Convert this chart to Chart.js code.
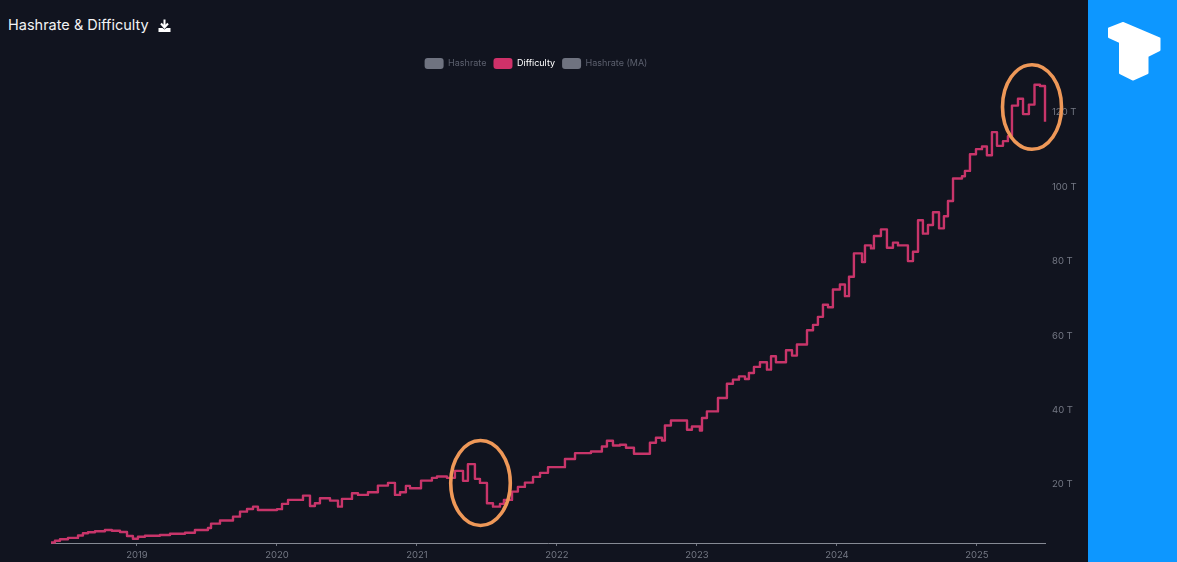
<!DOCTYPE html>
<html>
<head>
<meta charset="utf-8">
<style>
html,body{margin:0;padding:0;width:1177px;height:562px;overflow:hidden;background:#11141f;}
#title{position:absolute;left:8px;top:15px;font:14.5px/20px Inter,"Liberation Sans",sans-serif;color:#f2f3f5;white-space:nowrap;}
#chart{position:absolute;left:-8px;top:51px;}
#panel{position:absolute;left:1088px;top:0;width:89px;height:562px;background:#0d97ff;}
svg{position:absolute;left:0;top:0;pointer-events:none;}
</style>
<script src="https://cdn.jsdelivr.net/npm/chart.js@4/dist/chart.umd.min.js"></script>
</head>
<body>
<div id="panel"></div>
<div id="title">Hashrate &amp; Difficulty</div>
<canvas id="chart" width="1088" height="511"></canvas>
<svg width="1177" height="562" viewBox="0 0 1177 562">
  <path d="M164.500 19.500v7M161 23.500l3.500 4 3.500-4" fill="none" stroke="#fff" stroke-width="2"/>
  <path d="M158.500 28h4l2 1.500 2-1.500h4v4h-12z" fill="#fff"/>
  <ellipse cx="480.500" cy="483" rx="29.800" ry="42.500" fill="none" stroke="#ee9858" stroke-width="3.600"/>
  <ellipse cx="1032" cy="107" rx="29.500" ry="42.300" fill="none" stroke="#ee9858" stroke-width="3.600"/>
  <path d="M1109 28.500L1123 23L1159.500 38.500V50L1147.500 56V73L1133 79.500L1120 73V42L1109 37Z" fill="#fff" stroke="#fff" stroke-width="2" stroke-linejoin="round"/>
</svg>
<script>
const seriesNames = ["Hashrate", "Difficulty", "Hashrate (MA)"];
const yearTicks = [2019, 2020, 2021, 2022, 2023, 2024, 2025];
const adjustYear = [
2018.386,2018.414,2018.45,2018.507,2018.579,2018.614,2018.65,2018.7,2018.771,2018.821,2018.879,2018.929,2018.971,
2019.007,2019.057,2019.164,2019.236,2019.343,2019.414,2019.507,2019.529,2019.593,2019.686,2019.736,2019.786,2019.829,2019.864,
2020.0,2020.036,2020.079,2020.186,2020.236,2020.271,2020.307,2020.379,2020.436,2020.464,2020.536,2020.579,2020.65,2020.721,2020.793,2020.843,2020.879,2020.921,2020.95,
2021.029,2021.107,2021.143,2021.214,2021.271,2021.329,2021.364,2021.414,2021.45,2021.5,2021.543,2021.593,2021.621,2021.679,2021.721,2021.771,2021.829,2021.879,2021.936,
2022.057,2022.129,2022.243,2022.321,2022.357,2022.4,2022.45,2022.493,2022.55,2022.664,2022.707,2022.75,2022.771,2022.814,2022.929,2022.964,
2023.021,2023.036,2023.071,2023.15,2023.214,2023.257,2023.3,2023.343,2023.371,2023.407,2023.45,2023.5,2023.529,2023.564,2023.636,2023.679,2023.714,2023.786,2023.829,2023.864,2023.9,2023.936,2023.971,
2024.021,2024.057,2024.086,2024.121,2024.179,2024.2,2024.243,2024.264,2024.314,2024.357,2024.4,2024.436,2024.507,2024.543,2024.579,2024.614,2024.65,2024.686,2024.729,2024.764,2024.793,2024.829,2024.893,2024.914,2024.95,2024.993,
2025.036,2025.071,2025.107,2025.143,2025.186,2025.221,2025.25,2025.293,2025.329,2025.371,2025.411,2025.45,2025.486,2025.486
];
const difficultyT = [
3.96,4.45,4.82,5.2,5.85,6.44,6.71,6.98,7.33,7.12,6.79,5.71,4.99,
5.53,5.8,5.98,6.31,6.6,7.33,7.87,9.03,9.89,10.92,12.26,12.99,13.61,12.72,
12.94,14.34,15.42,16.58,13.8,14.53,15.88,15.23,13.61,15.69,17.22,16.77,17.49,19.27,20,16.77,17.49,19.19,18.57,
20.62,21.35,21.7,21.35,23.23,20.54,25.04,21.08,20,14.53,13.61,14.34,15.42,17.65,18.92,20.08,21.62,22.7,24.23,
26.42,28.01,28.44,29.78,31.32,30.05,30.24,29.43,27.82,30.78,32.13,31.4,35.44,36.79,34.29,35.18,
34.1,37.44,39.22,42.83,46.68,47.76,48.65,47.95,49.57,51.19,52.43,50.46,54.04,52.43,55.66,54.23,57.2,61.05,62.51,64.66,67.9,67.25,72.02,
73.37,70.22,75.44,81.72,79.38,83.88,83.07,86.39,88.19,83.26,84.61,83.88,79.65,82.18,90.62,87.03,89.35,92.78,88.46,91.7,95.82,101.86,102.48,103.91,108.41,109.76,
110.48,108.14,114.34,110.65,111.91,113.26,121.48,123.32,119.19,121.75,127.09,126.74,126.47,117.11
];
const points = adjustYear.map((x, i) => ({x, y: difficultyT[i]}));
const grey = "#6f7380", dimText = "#5c606e", axisText = "#747884";

new Chart(document.getElementById("chart"), {
  type: "line",
  data: {
    datasets: [
      {label: seriesNames[0], data: [], hidden: true, borderColor: grey, backgroundColor: grey},
      {label: seriesNames[1], data: points, stepped: true, borderColor: "#c8356a", backgroundColor: "#cf3169",
       borderWidth: 2.4, borderJoinStyle: "round", pointRadius: 0, clip: false},
      {label: seriesNames[2], data: [], hidden: true, borderColor: grey, backgroundColor: grey}
    ]
  },
  options: {
    responsive: false,
    animation: false,
    layout: {padding: 0},
    plugins: {
      title: {display: false},
      tooltip: {enabled: false},
      legend: {
        position: "top",
        labels: {
          boxWidth: 19, boxHeight: 11, padding: 7, useBorderRadius: true, borderRadius: 3,
          font: {family: "Inter, 'Liberation Sans', sans-serif", size: 9},
          generateLabels: chart => chart.data.datasets.map((d, i) => ({
            text: d.label,
            fillStyle: d.hidden ? grey : d.backgroundColor,
            strokeStyle: "transparent",
            lineWidth: 0,
            fontColor: d.hidden ? dimText : "#ffffff",
            hidden: false,
            datasetIndex: i,
            borderRadius: 3
          }))
        }
      }
    },
    scales: {
      x: {
        type: "linear", position: "bottom", min: 2018.386, max: 2025.486,
        afterFit: s => { s.height = 19; },
        afterBuildTicks: s => { s.ticks = yearTicks.map(value => ({value})); },
        grid: {drawOnChartArea: false, drawTicks: true, tickLength: 3, tickColor: "#6f7380"},
        border: {display: true, color: "#868a94", width: 1},
        ticks: {
          color: axisText, padding: 3, maxRotation: 0, autoSkip: false, includeBounds: false,
          font: {family: "Inter, 'Liberation Sans', sans-serif", size: 9.5},
          callback: v => String(Math.round(v))
        }
      },
      y: {
        type: "linear", position: "right", min: 3.83, max: 128.63,
        afterFit: s => { s.width = 35; },
        grid: {display: false, drawTicks: false},
        border: {display: false},
        ticks: {
          stepSize: 20, includeBounds: false, color: axisText, padding: 7, labelOffset: 1.5,
          font: {family: "Inter, 'Liberation Sans', sans-serif", size: 9.5},
          callback: v => v + " T"
        }
      },
      yLeft: {
        type: "linear", position: "left", min: 0, max: 1,
        afterFit: s => { s.width = 59; },
        grid: {display: false, drawTicks: false}, border: {display: false}, ticks: {display: false}
      }
    }
  }
});
</script>
</body>
</html>
